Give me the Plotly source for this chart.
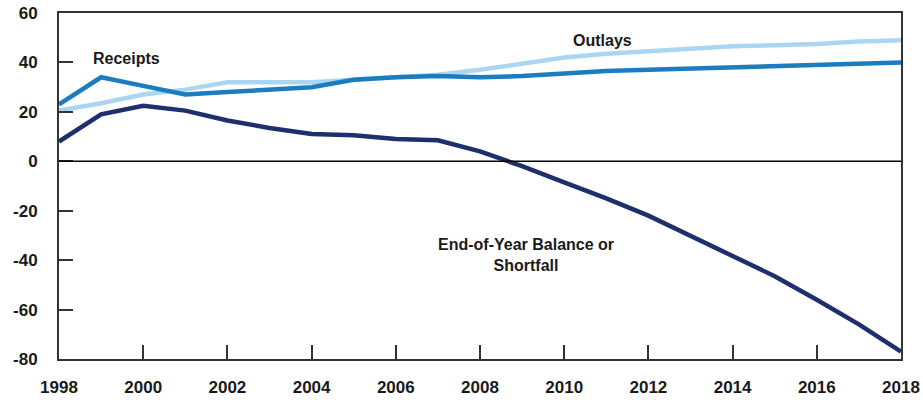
import plotly.graph_objects as go

years = list(range(1998, 2019))
receipts = [23, 34, 30.5, 27, 28, 29, 30, 33, 34, 34.5, 34, 34.5, 35.5, 36.5, 37, 37.5, 38, 38.5, 39, 39.5, 40]
outlays = [20.5, 23.5, 27, 29, 32, 32, 32, 33, 34, 35, 37, 39.5, 42, 43.5, 44.5, 45.5, 46.5, 47, 47.5, 48.5, 49]
balance = [8, 19, 22.5, 20.5, 16.5, 13.5, 11, 10.5, 9, 8.5, 4, -2, -8.5, -15, -22, -30, -38, -46.5, -56, -66, -77]

x_ticks = list(range(1998, 2019, 2))
y_ticks = list(range(-80, 61, 20))

FONT = "Liberation Sans"
TXT = "#1a1a1a"

fig = go.Figure()
fig.add_trace(go.Scatter(x=years, y=outlays, mode="lines", line=dict(color="#abd6f1", width=4.5), name="Outlays"))
fig.add_trace(go.Scatter(x=years, y=receipts, mode="lines", line=dict(color="#1b7cbf", width=4.5), name="Receipts"))
fig.add_trace(go.Scatter(x=years, y=balance, mode="lines", line=dict(color="#1f2e6c", width=4.5), name="Balance"))

fig.add_hline(y=0, line=dict(color="black", width=1.5))

common = dict(ticks="inside", ticklen=14, tickwidth=1.5, tickcolor="#333", showline=True,
              linecolor="#333", linewidth=2, mirror=True, showgrid=False, zeroline=False,
              automargin=False, tickfont=dict(family=FONT, size=17, color=TXT))

fig.update_layout(
    width=923, height=402,
    margin=dict(l=59, r=22, t=13, b=43),
    paper_bgcolor="white", plot_bgcolor="white",
    showlegend=False,
    font=dict(family=FONT, size=16, color=TXT),
    xaxis=dict(range=[1998, 2018], tickvals=x_ticks, ticktext=[f"<b>{v}</b>" for v in x_ticks],
               ticklabelstandoff=12, **common),
    yaxis=dict(range=[-80, 60], tickvals=y_ticks, ticktext=[f"<b>{v}</b>" for v in y_ticks],
               ticklabelstandoff=16, **common),
    annotations=[
        dict(x=1999.6, y=41.5, text="<b>Receipts</b>", showarrow=False, font=dict(size=16)),
        dict(x=2010.9, y=49, text="<b>Outlays</b>", showarrow=False, font=dict(size=16)),
        dict(x=2009.1, y=-38, text="<b>End-of-Year Balance or<br>Shortfall</b>", showarrow=False,
             font=dict(size=16), align="center"),
    ],
)

fig.write_html("out.html")
